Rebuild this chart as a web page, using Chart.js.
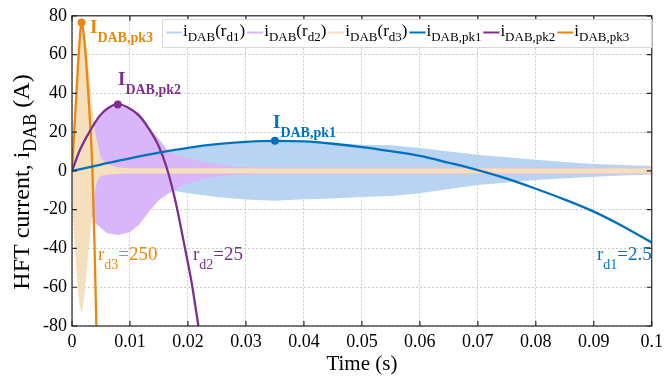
<!DOCTYPE html>
<html>
<head>
<meta charset="utf-8">
<script src="https://cdn.jsdelivr.net/npm/chart.js@4.4.0/dist/chart.umd.min.js"></script>
<style>
html, body { margin: 0; padding: 0; background: #fff; }
</style>
</head>
<body>
<canvas id="hftChart" width="668" height="376"></canvas>
<script>
// Envolventes de la corriente i_DAB para cada r_d
const tEnv1 = [0, 0.005, 0.01, 0.015, 0.02, 0.025, 0.03, 0.035, 0.04, 0.045, 0.05, 0.055, 0.06, 0.065, 0.07, 0.075, 0.08, 0.085, 0.09, 0.095, 0.1];
const env1Upper = [0, 3, 6, 9, 11.5, 13.3, 14.5, 15, 14.8, 14.2, 13.5, 13.2, 11.8, 10, 8.3, 7, 5.8, 4.6, 3.5, 3, 2.5];
const env1Lower = [0, -3, -6, -9, -11.5, -13.5, -14.8, -15.4, -14.6, -14.2, -13.5, -13, -11.5, -9.4, -7.3, -6, -4.7, -3.8, -3, -2.4, -1.9];

const tEnv2 = [0, 0.002, 0.004, 0.006, 0.008, 0.01, 0.0116, 0.0133, 0.015, 0.0167, 0.0184, 0.02, 0.022, 0.025, 0.028, 0.032, 0.1];
const env2Upper = [0, 14, 26, 32, 33.5, 32, 30, 22.4, 16.5, 9.7, 7.5, 6.5, 5, 3.5, 2.2, 1.6, 1.6];
const env2Lower = [0, -14, -27, -32, -33, -31.5, -27.6, -21, -15, -11.5, -8.5, -6.5, -4.7, -3, -2, -1.6, -1.6];

const tEnv3 = [0, 0.0002, 0.0005, 0.0009, 0.0013, 0.00165, 0.002, 0.0025, 0.0031, 0.0036, 0.004, 0.0045, 0.005, 0.0065, 0.008, 0.01, 0.1];
const env3Upper = [0, 20, 38, 56, 70, 76.5, 72, 64, 47, 30, 20, 13, 6.3, 3, 1.8, 1.4, 1.4];
const env3Lower = [0, -25, -40, -58, -69, -73.5, -68, -52, -33, -18, -9, -4.5, -2.5, -1.8, -1.5, -1.4, -1.4];

// Curvas de pico
const tPk1 = [0, 0.005, 0.01, 0.015, 0.02, 0.025, 0.03, 0.035, 0.04, 0.045, 0.05, 0.055, 0.06, 0.065, 0.07, 0.075, 0.08, 0.085, 0.09, 0.095, 0.1];
const pk1 = [0, 3.3, 6.5, 9.4, 11.9, 13.8, 15, 15.5, 15.2, 14, 12.3, 10.2, 7.8, 4.2, 0.4, -4, -9.2, -14.8, -21, -28.5, -37];

const tPk2 = [0, 0.0014, 0.0033, 0.0048, 0.0063, 0.0079, 0.0095, 0.0116, 0.0133, 0.015, 0.0163, 0.0178, 0.0193, 0.0206, 0.0218, 0.023];
const pk2 = [0, 11, 21.6, 28.5, 32.6, 34.3, 33, 28.4, 21.6, 12.5, 2, -15, -37, -57, -80, -104];

const tPk3 = [0, 0.0004, 0.0008, 0.0012, 0.00165, 0.002, 0.0025, 0.003, 0.0035, 0.0039, 0.0042, 0.0046];
const pk3 = [0, 21, 42, 62, 76.5, 71, 54, 31, 2, -40, -80, -130];

// Puntos de pico marcados
const peakT = [0.035, 0.0079, 0.00165];
const peakI = [15.5, 34.3, 76.5];

// Etiquetas de los ejes
const xTickLabels = ['0', '0.01', '0.02', '0.03', '0.04', '0.05', '0.06', '0.07', '0.08', '0.09', '0.1'];
const yTickLabels = ['-80', '-60', '-40', '-20', '0', '20', '40', '60', '80'];

const serif = '"Liberation Serif", "Times New Roman", serif';
const blue = '#0072bd', purple = '#7e2f8e', orange = '#e8890f';
const blueFill = '#b9d4f2', purpleFill = '#d9b6fa', orangeFill = '#f5dfbd';

function pts(t, v) {
    return t.map((x, i) => ({ x: x, y: v[i] }));
}

function envDataset(t, v, color, order) {
    return {
        data: pts(t, v),
        borderWidth: 0,
        borderColor: color,
        backgroundColor: color,
        pointRadius: 0,
        fill: 'origin',
        tension: 0,
        order: order
    };
}

function lineDataset(t, v, color) {
    return {
        data: pts(t, v),
        borderColor: color,
        borderWidth: 2.3,
        pointRadius: 0,
        fill: false,
        cubicInterpolationMode: 'monotone',
        order: 1
    };
}

// Texto con subíndices
function drawRich(ctx, x, y, parts, color, measureOnly) {
    ctx.fillStyle = color;
    ctx.textBaseline = 'alphabetic';
    ctx.textAlign = 'left';
    parts.forEach(p => {
        ctx.font = (p.bold ? 'bold ' : '') + p.size + 'px ' + serif;
        if (!measureOnly) ctx.fillText(p.t, x, y + (p.dy || 0));
        x += ctx.measureText(p.t).width;
    });
    return x;
}

function envLabel(sub) {
    return [{ t: 'i', size: 17 }, { t: 'DAB', size: 13, dy: 5 }, { t: '(r', size: 17 }, { t: sub, size: 13, dy: 5 }, { t: ')', size: 17 }];
}
function pkLabel(sub) {
    return [{ t: 'i', size: 17 }, { t: sub, size: 13, dy: 5 }];
}

const legendItems = [
    { color: blueFill, parts: envLabel('d1') },
    { color: purpleFill, parts: envLabel('d2') },
    { color: orangeFill, parts: envLabel('d3') },
    { color: blue, parts: pkLabel('DAB,pk1') },
    { color: purple, parts: pkLabel('DAB,pk2') },
    { color: orange, parts: pkLabel('DAB,pk3') }
];

const decorPlugin = {
    id: 'decor',
    afterDraw(chart) {
        const ctx = chart.ctx;
        const a = chart.chartArea;
        const xs = chart.scales.x, ys = chart.scales.y;
        ctx.save();

        // marco y marcas hacia dentro
        ctx.strokeStyle = '#262626';
        ctx.lineWidth = 1.2;
        ctx.strokeRect(a.left, a.top, a.right - a.left, a.bottom - a.top);
        ctx.beginPath();
        xs.ticks.forEach(tk => {
            const px = xs.getPixelForValue(tk.value);
            ctx.moveTo(px, a.bottom); ctx.lineTo(px, a.bottom - 5);
            ctx.moveTo(px, a.top); ctx.lineTo(px, a.top + 5);
        });
        ys.ticks.forEach(tk => {
            const py = ys.getPixelForValue(tk.value);
            ctx.moveTo(a.left, py); ctx.lineTo(a.left + 5, py);
            ctx.moveTo(a.right, py); ctx.lineTo(a.right - 5, py);
        });
        ctx.stroke();

        // leyenda
        ctx.fillStyle = '#fff';
        ctx.strokeStyle = '#d8d8d8';
        ctx.lineWidth = 1;
        ctx.fillRect(162, 19, 489, 28);
        ctx.strokeRect(162.5, 19.5, 489, 28);
        let lx = 166;
        legendItems.forEach(it => {
            ctx.strokeStyle = it.color;
            ctx.lineWidth = 2;
            ctx.beginPath();
            ctx.moveTo(lx, 32.5); ctx.lineTo(lx + 16, 32.5);
            ctx.stroke();
            lx = drawRich(ctx, lx + 17, 36, it.parts, '#000') + 2;
        });

        // anotaciones de pico
        const bold = (s) => [{ t: 'I', size: 19, bold: true }, { t: s, size: 14, bold: true, dy: 9 }];
        drawRich(ctx, 90, 33, bold('DAB,pk3'), orange);
        drawRich(ctx, 118, 85, bold('DAB,pk2'), purple);
        drawRich(ctx, 273, 128, bold('DAB,pk1'), blue);

        // valores de r_d
        const rd = (s, v) => [{ t: 'r', size: 19 }, { t: s, size: 14, dy: 9 }, { t: v, size: 19 }];
        drawRich(ctx, 98, 260, rd('d3', '=250'), orange);
        drawRich(ctx, 193, 260, rd('d2', '=25'), purple);
        drawRich(ctx, 597, 260, rd('d1', '=2.5'), blue);

        // título eje x
        ctx.font = '21px ' + serif;
        ctx.fillStyle = '#000';
        ctx.textAlign = 'center';
        ctx.fillText('Time (s)', (a.left + a.right) / 2, 370);

        // título eje y (rotado)
        const yParts = [{ t: 'HFT current, i', size: 24 }, { t: 'DAB', size: 18, dy: 7 }, { t: ' (A)', size: 24 }];
        const w = drawRich(ctx, 0, 0, yParts, '#000', true);
        ctx.translate(29, 182);
        ctx.rotate(-Math.PI / 2);
        drawRich(ctx, -w / 2, 0, yParts, '#000');
        ctx.restore();
    }
};

const ctx = document.getElementById('hftChart').getContext('2d');

new Chart(ctx, {
    type: 'line',
    data: {
        datasets: [
            envDataset(tEnv1, env1Upper, blueFill, 6),
            envDataset(tEnv1, env1Lower, blueFill, 6),
            envDataset(tEnv2, env2Upper, purpleFill, 5),
            envDataset(tEnv2, env2Lower, purpleFill, 5),
            envDataset(tEnv3, env3Upper, orangeFill, 4),
            envDataset(tEnv3, env3Lower, orangeFill, 4),
            lineDataset(tPk1, pk1, blue),
            lineDataset(tPk2, pk2, purple),
            lineDataset(tPk3, pk3, orange),
            {
                data: pts(peakT, peakI),
                showLine: false,
                pointRadius: 4,
                pointBorderWidth: 0,
                pointBackgroundColor: [blue, purple, orange],
                order: 0
            }
        ]
    },
    options: {
        responsive: false,
        animation: false,
        layout: { padding: { top: 12, right: 10, left: 0, bottom: 0 } },
        plugins: {
            legend: { display: false },
            tooltip: { enabled: false }
        },
        scales: {
            x: {
                type: 'linear',
                min: 0,
                max: 0.1,
                afterFit(scale) { scale.height = 50; },
                ticks: {
                    stepSize: 0.01,
                    autoSkip: false,
                    maxRotation: 0,
                    padding: 5,
                    color: '#000',
                    font: { family: serif, size: 18 },
                    callback: (v, i) => xTickLabels[i]
                },
                grid: { color: '#cccccc', drawTicks: false },
                border: { display: false, dash: [2, 2] }
            },
            y: {
                min: -80,
                max: 80,
                afterFit(scale) { scale.width = 72; },
                ticks: {
                    stepSize: 20,
                    padding: 5,
                    color: '#000',
                    font: { family: serif, size: 18 },
                    callback: (v, i) => yTickLabels[i]
                },
                grid: { color: '#cccccc', drawTicks: false },
                border: { display: false, dash: [2, 2] }
            }
        }
    },
    plugins: [decorPlugin]
});
</script>
</body>
</html>
